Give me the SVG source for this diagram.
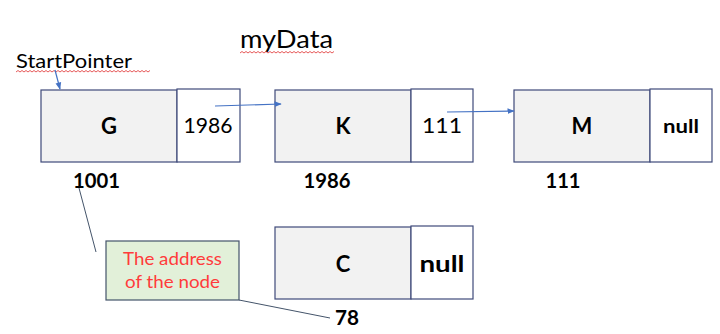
<svg xmlns="http://www.w3.org/2000/svg" width="720" height="334" viewBox="0 0 720 334">
<defs>
<style>
.data{fill:#f2f2f2;stroke:#3f4a7a;stroke-width:1.2}
.ptr{fill:#ffffff;stroke:#3f4a7a;stroke-width:1.2}
.t{font-family:Lato,"Liberation Sans",Arial,sans-serif;fill:#000}
.b{font-weight:bold}
.r{fill:#ff3b3b}
.c{stroke:#4472c4;stroke-width:1.2;fill:none}
.sq{stroke:#e03030;stroke-width:0.8;fill:none}
</style>
<marker id="ah" viewBox="0 0 10 10" refX="9" refY="5" markerWidth="6" markerHeight="6" orient="auto">
<path d="M0,1 L10,5 L0,9 z" fill="#4472c4"/>
</marker>
</defs>
<rect width="720" height="334" fill="#ffffff"/>
<g id="title">
<text class="t" x="240" y="48" font-size="25" textLength="93" lengthAdjust="spacingAndGlyphs">myData</text>
<path class="sq" d="M240,53 l2,-1.5 l2,1.5 l2,-1.5 l2,1.5 l2,-1.5 l2,1.5 l2,-1.5 l2,1.5 l2,-1.5 l2,1.5 l2,-1.5 l2,1.5 l2,-1.5 l2,1.5 l2,-1.5 l2,1.5 l2,-1.5 l2,1.5 l2,-1.5 l2,1.5 l2,-1.5 l2,1.5 l2,-1.5 l2,1.5 l2,-1.5 l2,1.5 l2,-1.5 l2,1.5 l2,-1.5 l2,1.5 l2,-1.5 l2,1.5 l2,-1.5 l2,1.5 l2,-1.5 l2,1.5 l2,-1.5 l2,1.5 l2,-1.5 l2,1.5 l2,-1.5 l2,1.5 l2,-1.5 l2,1.5 l2,-1.5 l2,1.5 l2,-1.5"/>
</g>
<g id="startpointer">
<text class="t" x="16" y="68" font-size="20" textLength="116" lengthAdjust="spacingAndGlyphs">StartPointer</text>
<path class="sq" d="M16,72 l2,-1.5 l2,1.5 l2,-1.5 l2,1.5 l2,-1.5 l2,1.5 l2,-1.5 l2,1.5 l2,-1.5 l2,1.5 l2,-1.5 l2,1.5 l2,-1.5 l2,1.5 l2,-1.5 l2,1.5 l2,-1.5 l2,1.5 l2,-1.5 l2,1.5 l2,-1.5 l2,1.5 l2,-1.5 l2,1.5 l2,-1.5 l2,1.5 l2,-1.5 l2,1.5 l2,-1.5 l2,1.5 l2,-1.5 l2,1.5 l2,-1.5 l2,1.5 l2,-1.5 l2,1.5 l2,-1.5 l2,1.5 l2,-1.5 l2,1.5 l2,-1.5 l2,1.5 l2,-1.5 l2,1.5 l2,-1.5 l2,1.5 l2,-1.5 l2,1.5 l2,-1.5 l2,1.5 l2,-1.5 l2,1.5 l2,-1.5 l2,1.5 l2,-1.5 l2,1.5 l2,-1.5 l2,1.5 l2,-1.5 l2,1.5 l2,-1.5 l2,1.5 l2,-1.5 l2,1.5 l2,-1.5 l2,1.5 l2,-1.5"/>
</g>
<g id="nodeG">
<rect class="data" x="41" y="90" width="136" height="72"/>
<rect class="ptr" x="177" y="89" width="63" height="73"/>
<text class="t b" x="109" y="134" font-size="22" text-anchor="middle">G</text>
<text class="t" x="208" y="133" font-size="21" text-anchor="middle" textLength="49" lengthAdjust="spacingAndGlyphs">1986</text>
<text class="t b" x="96.5" y="188" font-size="20" text-anchor="middle" textLength="47" lengthAdjust="spacingAndGlyphs">1001</text>
</g>
<g id="nodeK">
<rect class="data" x="275" y="90" width="136" height="72"/>
<rect class="ptr" x="411" y="89" width="62" height="73"/>
<text class="t b" x="343" y="134" font-size="22" text-anchor="middle">K</text>
<text class="t" x="442" y="133" font-size="22" text-anchor="middle" textLength="40" lengthAdjust="spacingAndGlyphs">111</text>
<text class="t b" x="327" y="188" font-size="20" text-anchor="middle" textLength="47" lengthAdjust="spacingAndGlyphs">1986</text>
</g>
<g id="nodeM">
<rect class="data" x="514" y="90" width="136" height="72"/>
<rect class="ptr" x="650" y="89" width="62" height="73"/>
<text class="t b" x="582" y="134" font-size="22" text-anchor="middle">M</text>
<text class="t b" x="681" y="133" font-size="19" text-anchor="middle" textLength="36" lengthAdjust="spacingAndGlyphs">null</text>
<text class="t b" x="563" y="188" font-size="20" text-anchor="middle" textLength="35" lengthAdjust="spacingAndGlyphs">111</text>
</g>
<g id="nodeC">
<rect class="data" x="275" y="227" width="136" height="72"/>
<rect class="ptr" x="411" y="226" width="62" height="73"/>
<text class="t b" x="343" y="272" font-size="22" text-anchor="middle">C</text>
<text class="t b" x="442" y="272" font-size="23" text-anchor="middle" textLength="45" lengthAdjust="spacingAndGlyphs">null</text>
<text class="t b" x="347" y="325" font-size="20" text-anchor="middle" textLength="24" lengthAdjust="spacingAndGlyphs">78</text>
</g>
<g id="note">
<rect x="106" y="241" width="133" height="59" fill="#e2f0d9" stroke="#44546a" stroke-width="1.2"/>
<text class="t r" x="172.5" y="265" font-size="17" text-anchor="middle" textLength="99" lengthAdjust="spacingAndGlyphs">The address</text>
<text class="t r" x="172.5" y="288" font-size="17" text-anchor="middle" textLength="95" lengthAdjust="spacingAndGlyphs">of the node</text>
</g>
<g id="connectors">
<line class="c" x1="55" y1="70" x2="60" y2="89" marker-end="url(#ah)"/>
<line class="c" x1="215" y1="106" x2="281" y2="104" marker-end="url(#ah)"/>
<line class="c" x1="447" y1="112" x2="514" y2="111" marker-end="url(#ah)"/>
<line x1="79" y1="188" x2="96" y2="252" stroke="#44546a" stroke-width="1"/>
<line x1="239" y1="300" x2="330" y2="318" stroke="#44546a" stroke-width="1"/>
</g>
</svg>
